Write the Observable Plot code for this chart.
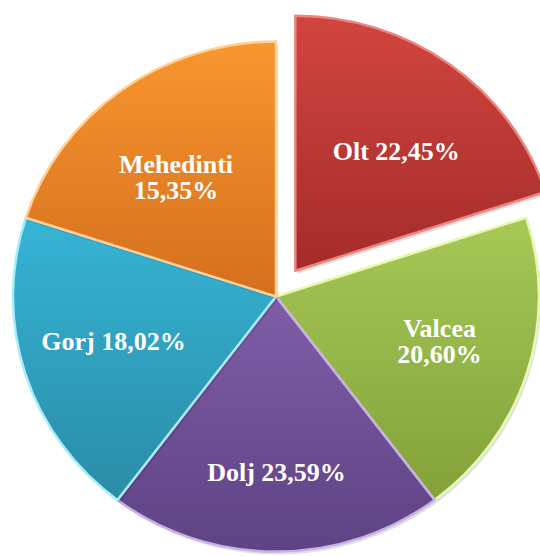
<!DOCTYPE html>
<html><head><meta charset="utf-8">
<script src="https://cdn.jsdelivr.net/npm/d3@7"></script>
<script src="https://cdn.jsdelivr.net/npm/@observablehq/plot@0.6"></script>
<style>html,body{margin:0;padding:0;background:#fff;overflow:hidden}</style>
</head><body><div id="chart"></div>
<script>
// ---- data ----
const regions = ["Olt", "Valcea", "Dolj", "Gorj", "Mehedinti"];
const shareLabels = ["22,45%", "20,60%", "23,59%", "18,02%", "15,35%"];
// slice sizes as drawn in the picture (angular share, %)
const sliceShares = [20.0, 19.7, 20.6, 19.7, 20.0];
const explodedRegions = ["Olt"];
const wrappedLabels = ["Valcea", "Mehedinti"];

// ---- styles ----
const fillTop    = ["#d2453f", "#a6c855", "#7f5da8", "#36b4d5", "#f8962f"];
const fillBottom = ["#a42c2a", "#82a23a", "#5e4384", "#2a8ca7", "#d56f1e"];
const edgeColor  = ["#ec8680", "#e8f8b0", "#c8b0e6", "#a6ecfa", "#fdd096"];

// ---- layout ----
const W = 540, H = 556;
const cx = 276, cy = 296.5, RX = 263, RY = 255;
const explodeDist = 0.125;
const labelRX = 0.65, labelRY = d => d === "Dolj" ? 0.69 : 0.58;

const rows = regions.map((r, i) => ({
  region: r,
  share: sliceShares[i],
  label: wrappedLabels.includes(r) ? `${r}\n${shareLabels[i]}` : `${r} ${shareLabels[i]}`,
  i
}));
const arcs = d3.pie().sort(null).value(d => d.share)(rows);
arcs.forEach(a => {
  const mid = (a.startAngle + a.endAngle) / 2;
  const off = explodedRegions.includes(a.data.region) ? explodeDist : 0;
  a.ox = off * Math.sin(mid);
  a.oy = off * Math.cos(mid);
  a.lx = a.ox + labelRX * Math.sin(mid);
  a.ly = a.oy + labelRY(a.data.region) * Math.cos(mid);
});

function slices(index, scales) {
  const svgNS = "http://www.w3.org/2000/svg";
  const mk = (t, attrs) => { const e = document.createElementNS(svgNS, t); for (const k in attrs) e.setAttribute(k, attrs[k]); return e; };
  const g = mk("g", {});
  const defs = mk("defs", {});
  g.appendChild(defs);
  const sx = scales.x(1) - scales.x(0), sy = scales.y(0) - scales.y(1);
  const arcGen = d3.arc().innerRadius(0).outerRadius(1);
  arcs.forEach((a, k) => {
    const id = "grad" + k, cid = "clip" + k;
    const lg = mk("linearGradient", {id, x1: 0, y1: 0, x2: 0, y2: 1});
    [[0, fillTop[a.data.i]], [1, fillBottom[a.data.i]]].forEach(([o, c]) => lg.appendChild(mk("stop", {offset: o, "stop-color": c})));
    defs.appendChild(lg);
    const d = arcGen(a);
    const tr = `translate(${scales.x(a.ox)},${scales.y(a.oy)}) scale(${sx},${sy})`;
    const cp = mk("clipPath", {id: cid});
    cp.appendChild(mk("path", {d, transform: tr}));
    defs.appendChild(cp);
    // shadow
    g.appendChild(mk("path", {d, transform: `translate(${scales.x(a.ox) + 2},${scales.y(a.oy) + 3}) scale(${sx},${sy})`, fill: "#000", "fill-opacity": 0.12}));
    g.appendChild(mk("path", {d, transform: tr, fill: `url(#${id})`}));
    // inner bevel highlight
    g.appendChild(mk("path", {d, transform: tr, fill: "none", stroke: edgeColor[a.data.i], "stroke-width": 9, "stroke-opacity": 0.55, "vector-effect": "non-scaling-stroke", "stroke-linejoin": "round", "clip-path": `url(#${cid})`}));
    g.appendChild(mk("path", {d, transform: tr, fill: "none", stroke: edgeColor[a.data.i], "stroke-width": 2.5, "vector-effect": "non-scaling-stroke", "stroke-linejoin": "round"}));
  });
  return g;
}

const chart = Plot.plot({
  width: W, height: H,
  margin: 0,
  x: {domain: [-1, 1], range: [cx - RX, cx + RX], axis: null},
  y: {domain: [-1, 1], range: [cy + RY, cy - RY], axis: null},
  style: {background: "#fff"},
  marks: [
    slices,
    Plot.text(arcs, {
      x: "lx", y: "ly", text: d => d.data.label,
      fill: "#fff", fontSize: 26, fontWeight: "bold",
      fontFamily: "'Liberation Serif', 'Times New Roman', serif",
      lineHeight: 1.02, textAnchor: "middle"
    })
  ]
});
document.getElementById("chart").appendChild(chart);
</script>
</body></html>
